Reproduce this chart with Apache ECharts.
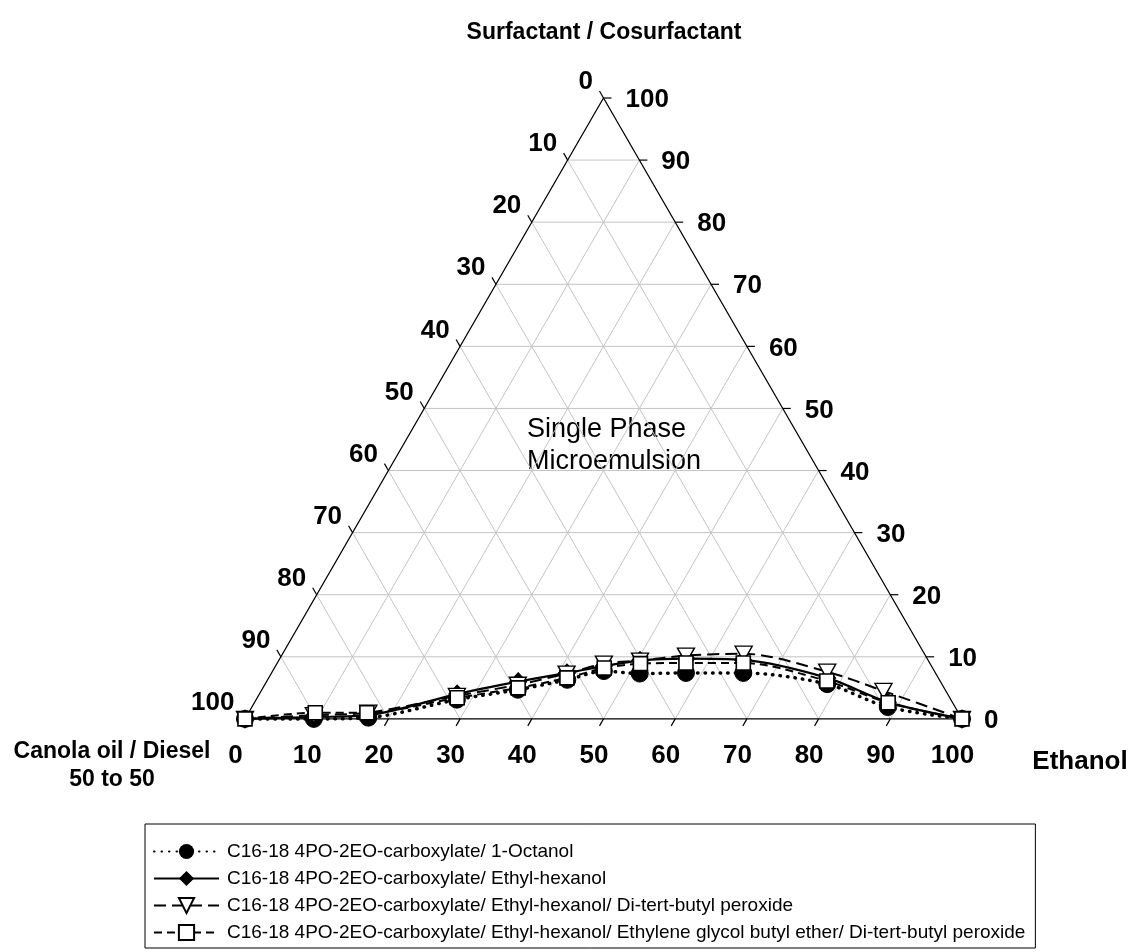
<!DOCTYPE html>
<html>
<head>
<meta charset="utf-8">
<script src="https://cdn.jsdelivr.net/npm/echarts@6/dist/echarts.min.js"></script>
<style>
html,body{margin:0;padding:0;background:#fff;}
#chart{width:1134px;height:952px;}
</style>
</head>
<body>
<div id="chart"></div>
<script>
// ---------- data (ternary: Ethanol %, Surfactant/Cosurfactant %) ----------
const seriesNames = [
  'C16-18 4PO-2EO-carboxylate/ 1-Octanol',
  'C16-18 4PO-2EO-carboxylate/ Ethyl-hexanol',
  'C16-18 4PO-2EO-carboxylate/ Ethyl-hexanol/ Di-tert-butyl peroxide',
  'C16-18 4PO-2EO-carboxylate/ Ethyl-hexanol/ Ethylene glycol butyl ether/ Di-tert-butyl peroxide'
];
const octanolEthanol = [0, 9.6, 17.1, 28.0, 35.7, 41.8, 46.2, 51.4, 57.8, 65.8, 78.4, 88.7, 100];
const octanolSurf    = [0, 0.0, 0.2, 3.1, 4.7, 6.3, 7.7, 7.3, 7.4, 7.4, 5.6, 1.9, 0];
const ethylhexEthanol = [0, 9.5, 16.9, 27.6, 35.1, 41.2, 45.8, 50.4, 56.7, 64.7, 77.9, 88.3, 100];
const ethylhexSurf    = [0, 0.3, 0.6, 4.0, 6.0, 7.4, 8.5, 9.4, 9.7, 9.5, 6.6, 2.7, 0];
const peroxideEthanol = [0, 9.3, 16.7, 27.7, 35.3, 41.2, 45.6, 50.4, 56.4, 64.3, 77.4, 86.8, 100];
const peroxideSurf    = [0, 0.6, 1.0, 3.7, 5.5, 7.3, 8.9, 9.4, 10.2, 10.5, 7.6, 4.5, 0];
const glycolEthanol = [0, 9.3, 16.5, 27.9, 35.6, 41.6, 46.0, 50.7, 57.0, 65.0, 78.1, 88.4, 100];
const glycolSurf    = [0, 1.0, 1.0, 3.4, 5.0, 6.6, 8.2, 8.9, 9.0, 9.0, 6.1, 2.6, 0];

const tickValues = [0, 10, 20, 30, 40, 50, 60, 70, 80, 90, 100];
const tickLabels = ['0', '10', '20', '30', '40', '50', '60', '70', '80', '90', '100'];
const gridValues = [10, 20, 30, 40, 50, 60, 70, 80, 90];

// ---------- helpers ----------
const SQ = Math.sqrt(3) / 2;
function tern(E, S) { return [E + S / 2, S * SQ]; }
function toPoints(eth, surf) { return eth.map((e, i) => tern(e, surf[i])); }

const FONT = '"Liberation Sans", Arial, sans-serif';
const chart = echarts.init(document.getElementById('chart'), null, {renderer: 'canvas'});

function frameRender(params, api) {
  const c = (E, S) => api.coord(tern(E, S));
  const ch = [];
  const gridStyle = {stroke: '#c4c4c4', lineWidth: 1, fill: null};
  gridValues.forEach(k => {
    let a = c(0, k), b = c(100 - k, k);
    ch.push({type: 'line', shape: {x1: a[0], y1: a[1], x2: b[0], y2: b[1]}, style: gridStyle});
    a = c(k, 0); b = c(k, 100 - k);
    ch.push({type: 'line', shape: {x1: a[0], y1: a[1], x2: b[0], y2: b[1]}, style: gridStyle});
    a = c(0, 100 - k); b = c(100 - k, 0);
    ch.push({type: 'line', shape: {x1: a[0], y1: a[1], x2: b[0], y2: b[1]}, style: gridStyle});
  });
  const v0 = c(0, 0), v1 = c(100, 0), v2 = c(0, 100);
  ch.push({type: 'polygon', shape: {points: [v0, v1, v2]}, style: {stroke: '#000', lineWidth: 1.2, fill: null}});
  const L = 8, dx = L * 0.5, dy = L * SQ;
  const tickStyle = {stroke: '#000', lineWidth: 1.2};
  const labStyle = {fill: '#000', font: 'bold 26px ' + FONT};
  tickValues.forEach((k, i) => {
    // bottom axis: Ethanol
    let p = c(k, 0);
    ch.push({type: 'line', shape: {x1: p[0], y1: p[1], x2: p[0] - dx, y2: p[1] + dy}, style: tickStyle});
    ch.push({type: 'text', x: p[0] - 9.5, y: p[1] + 37, style: Object.assign({text: tickLabels[i], align: 'center', verticalAlign: 'middle'}, labStyle)});
    // right axis: Surfactant
    p = c(100 - k, k);
    ch.push({type: 'line', shape: {x1: p[0], y1: p[1], x2: p[0] + L, y2: p[1]}, style: tickStyle});
    ch.push({type: 'text', x: p[0] + 22, y: p[1] + 2, style: Object.assign({text: tickLabels[i], align: 'left', verticalAlign: 'middle'}, labStyle)});
    // left axis: Canola oil / Diesel
    p = c(0, 100 - k);
    ch.push({type: 'line', shape: {x1: p[0], y1: p[1], x2: p[0] - dx, y2: p[1] - dy}, style: tickStyle});
    ch.push({type: 'text', x: p[0] - 10.5, y: p[1] - 16, style: Object.assign({text: tickLabels[i], align: 'right', verticalAlign: 'middle'}, labStyle)});
  });
  return {type: 'group', children: ch};
}

const triDown = 'path://M0,0 L12,0 L6,11 Z';

const option = {
  backgroundColor: '#fff',
  animation: false,
  grid: {left: 245, top: 98, width: 717, height: 620.9},
  xAxis: {type: 'value', min: 0, max: 100, show: false},
  yAxis: {type: 'value', min: 0, max: 100 * SQ, show: false},
  legend: {
    orient: 'vertical', left: 145, top: 824,
    itemWidth: 65, itemHeight: 19, itemGap: 6,
    padding: [17, 10, 5, 8],
    borderColor: '#000', borderWidth: 1,
    textStyle: {fontFamily: FONT, fontSize: 19, lineHeight: 21, color: '#000', padding: [0, 0, 0, 3]},
    data: seriesNames
  },
  graphic: [
    {type: 'text', x: 604, y: 33, style: {text: 'Surfactant / Cosurfactant', font: 'bold 23px ' + FONT, fill: '#000', align: 'center', verticalAlign: 'middle'}},
    {type: 'text', x: 1080, y: 762, style: {text: 'Ethanol', font: 'bold 26px ' + FONT, fill: '#000', align: 'center', verticalAlign: 'middle'}},
    {type: 'text', x: 112, y: 752, style: {text: 'Canola oil / Diesel', font: 'bold 23px ' + FONT, fill: '#000', align: 'center', verticalAlign: 'middle'}},
    {type: 'text', x: 112, y: 780, style: {text: '50 to 50', font: 'bold 23px ' + FONT, fill: '#000', align: 'center', verticalAlign: 'middle'}},
    {type: 'text', x: 527, y: 446, style: {text: 'Single Phase\nMicroemulsion', font: '27px ' + FONT, lineHeight: 32, fill: '#000', align: 'left', verticalAlign: 'middle'}}
  ],
  series: [
    {type: 'custom', name: 'frame', silent: true, clip: false, data: [[0, 0]], renderItem: frameRender, z: 1},
    {
      type: 'line', name: seriesNames[0], data: toPoints(octanolEthanol, octanolSurf),
      smooth: 0.3, clip: false, z: 3,
      symbol: 'circle', symbolSize: 17,
      lineStyle: {color: '#000', width: 3.5, type: [0.5, 7], cap: 'round'},
      itemStyle: {color: '#000', borderColor: '#000'}
    },
    {
      type: 'line', name: seriesNames[1], data: toPoints(ethylhexEthanol, ethylhexSurf),
      smooth: 0.3, clip: false, z: 4,
      symbol: 'diamond', symbolSize: [17, 18],
      lineStyle: {color: '#000', width: 2.2, type: 'solid'},
      itemStyle: {color: '#000', borderColor: '#000'}
    },
    {
      type: 'line', name: seriesNames[2], data: toPoints(peroxideEthanol, peroxideSurf),
      smooth: 0.3, clip: false, z: 5,
      symbol: triDown, symbolSize: [17, 15],
      lineStyle: {color: '#000', width: 2, type: [12, 6]},
      itemStyle: {color: '#fff', borderColor: '#000', borderWidth: 1.4}
    },
    {
      type: 'line', name: seriesNames[3], data: toPoints(glycolEthanol, glycolSurf),
      smooth: 0.3, clip: false, z: 6,
      symbol: 'rect', symbolSize: 14,
      lineStyle: {color: '#000', width: 2, type: [8, 5]},
      itemStyle: {color: '#fff', borderColor: '#000', borderWidth: 1.6}
    }
  ]
};
chart.setOption(option);
</script>
</body>
</html>
